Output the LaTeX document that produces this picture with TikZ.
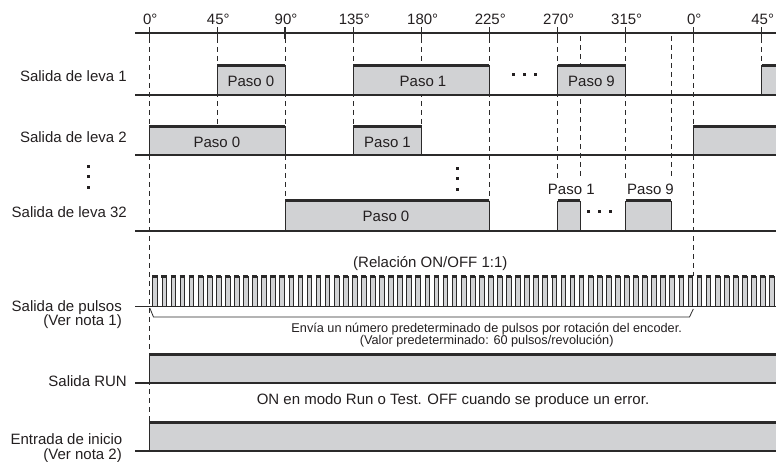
\documentclass[tikz,border=0pt]{standalone}
\usepackage{fontspec}
\setmainfont{Liberation Sans}
\definecolor{dk}{HTML}{2B2A2A}
\definecolor{gy}{HTML}{D1D2D4}
\definecolor{tx}{HTML}{231F20}
\newcommand\sigbox[4]{%
  \fill[gy] (#1,#3) rectangle (#2,#4);
  \draw[dk, line width=0.8pt] (#1,#4) -- (#1,#3) (#2,#3) -- (#2,#4);
  \draw[dk, line width=3pt] (#1,#3) -- (#2,#3);}
\newcommand\openbox[4]{%
  \fill[gy] (#1,#3) rectangle (#2,#4);
  \draw[dk, line width=0.8pt] (#1,#4) -- (#1,#3);
  \draw[dk, line width=3pt] (#1,#3) -- (#2,#3);}
\begin{document}
\begin{tikzpicture}[x=1pt,y=-1pt,
  ln/.style={draw=dk, line width=1.3pt},
  dsh/.style={draw=dk, line width=0.9pt, dash pattern=on 5pt off 4pt},
  tickmark/.style={draw=dk, line width=1.2pt},
  txt/.style={inner sep=0pt, text=tx, font=\fontsize{15}{15}\selectfont},
  sml/.style={inner sep=0pt, text=tx, font=\fontsize{12.7}{12}\selectfont},
  dot/.style={fill=tx},
]
\useasboundingbox (0,0) rectangle (776,462);

% ---- dashed reference lines (drawn first, boxes cover them)
\draw[dsh] (149.3,38) -- (149.3,421);
\draw[dsh] (217.3,38) -- (217.3,126);
\draw[dsh] (285,38) -- (285,200);
\draw[dsh] (353.3,38) -- (353.3,126);
\draw[dsh] (421.7,38) -- (421.7,126);
\draw[dsh] (489.3,38) -- (489.3,200);
\draw[dsh] (557.7,38) -- (557.7,178);
\draw[dsh] (580,36) -- (580,178);
\draw[dsh] (625.7,38) -- (625.7,178);
\draw[dsh] (671,36) -- (671,178);
\draw[dsh] (693.3,38) -- (693.3,276);
\draw[dsh] (761.7,38) -- (761.7,65);

% ---- angle axis
\draw[ln, line width=1.2pt] (135,33) -- (776,33);
\foreach \xx/\lab/\nm in {149.3/0/a0, 217.3/45/a1, 285/90/a2, 353.3/135/a3, 421.7/180/a4,
    489.3/225/a5, 557.7/270/a6, 625.7/315/a7, 693.3/0/a8, 761.7/45/a9} {
  \draw[tickmark] (\xx,27) -- (\xx,39);
  \node[txt, anchor=base] (\nm) at (\xx+1,25) {\lab°};
}

% ---- Salida de leva 1
\sigbox{217.3}{285}{65.5}{95}
\sigbox{353.3}{489.3}{65.5}{95}
\sigbox{557.7}{625.7}{65.5}{95}
\openbox{761.7}{776}{65.5}{95}
\draw[ln] (135,95) -- (776,95);
\node[txt, anchor=base] (r1p0) at (251,87) {Paso 0};
\node[txt, anchor=base] (r1p1) at (423,87) {Paso 1};
\node[txt, anchor=base] (r1p9) at (591.5,87) {Paso 9};
\foreach \xx in {513,524.3,535} \fill[dot] (\xx-1.5,73.5) rectangle (\xx+1.5,76.5);

% ---- Salida de leva 2
\sigbox{149.3}{285}{126.5}{155}
\sigbox{353.3}{421.7}{126.5}{155}
\openbox{693.3}{776}{126.5}{155}
\draw[ln] (135,155) -- (776,155);
\node[txt, anchor=base] (r2p0) at (217,147.5) {Paso 0};
\node[txt, anchor=base] (r2p1) at (387.5,147.5) {Paso 1};

% ---- vertical ellipses
\foreach \yy in {166.7,176.7,187.3} \fill[dot] (86.8,\yy-1.5) rectangle (89.8,\yy+1.5);
\foreach \yy in {168.3,178.3,189.3} \fill[dot] (455.8,\yy-1.5) rectangle (458.8,\yy+1.5);

% ---- Salida de leva 32
\sigbox{285}{489.3}{201}{231}
\sigbox{557.7}{580}{201}{231}
\sigbox{625.7}{671}{201}{231}
\draw[ln] (135,231) -- (776,231);
\node[txt, anchor=base] (r3p0) at (386,222) {Paso 0};
\node[txt, anchor=base] (r3p1) at (571.3,195) {Paso 1};
\node[txt, anchor=base] (r3p9) at (650.5,195) {Paso 9};
\foreach \xx in {588.3,599,610} \fill[dot] (\xx-1.5,210.2) rectangle (\xx+1.5,213.2);

% ---- pulses
\node[txt, anchor=base] (rel) at (430.3,268) {(Relación ON/OFF 1:1)};
\foreach \k in {0,...,68} {
  \pgfmathsetmacro\xa{152.7+9.07*\k}
  \pgfmathsetmacro\xb{\xa+4.7}
  \fill[gy] (\xa,276.5) rectangle (\xb,306.7);
  \draw[dk, line width=0.5pt] (\xa,306.7) -- (\xa,276.5) (\xb,276.5) -- (\xb,306.7);
  \draw[dk, line width=3pt] (\xa-0.3,276.5) -- (\xb+0.3,276.5);
}
\draw[ln] (135,306.7) -- (776,306.7);
\draw[dk, line width=0.8pt] (149.8,308) -- (153.5,317) -- (689.5,317) -- (693.3,309);
\node[sml, anchor=base] (env1) at (486.7,332) {Envía un número predeterminado de pulsos por rotación del encoder.};
\node[sml, anchor=base] (env2) at (486.7,344.5) {(Valor predeterminado: 60 pulsos/revolución)};

% ---- RUN
\openbox{149.3}{776}{354.5}{383}
\draw[ln] (135,383) -- (776,383);
\node[txt, anchor=base] (runnote) at (453,404) {ON en modo Run o Test. OFF cuando se produce un error.};

% ---- Entrada de inicio
\openbox{149.3}{776}{422}{451}
\draw[ln] (135,451) -- (776,451);

% ---- row labels
\node[txt, anchor=base east] (lab1) at (127,82) {Salida de leva 1};
\node[txt, anchor=base east] (lab2) at (127,143) {Salida de leva 2};
\node[txt, anchor=base east] (lab32) at (127,218) {Salida de leva 32};
\node[txt, anchor=base east] (labp) at (122,311) {Salida de pulsos};
\node[txt, anchor=base east] (labp2) at (122,325) {(Ver nota 1)};
\node[txt, anchor=base east] (labr) at (127,386.7) {Salida RUN};
\node[txt, anchor=base east] (labe) at (122.5,444) {Entrada de inicio};
\node[txt, anchor=base east] (labe2) at (122,459) {(Ver nota 2)};
\end{tikzpicture}
\end{document}
